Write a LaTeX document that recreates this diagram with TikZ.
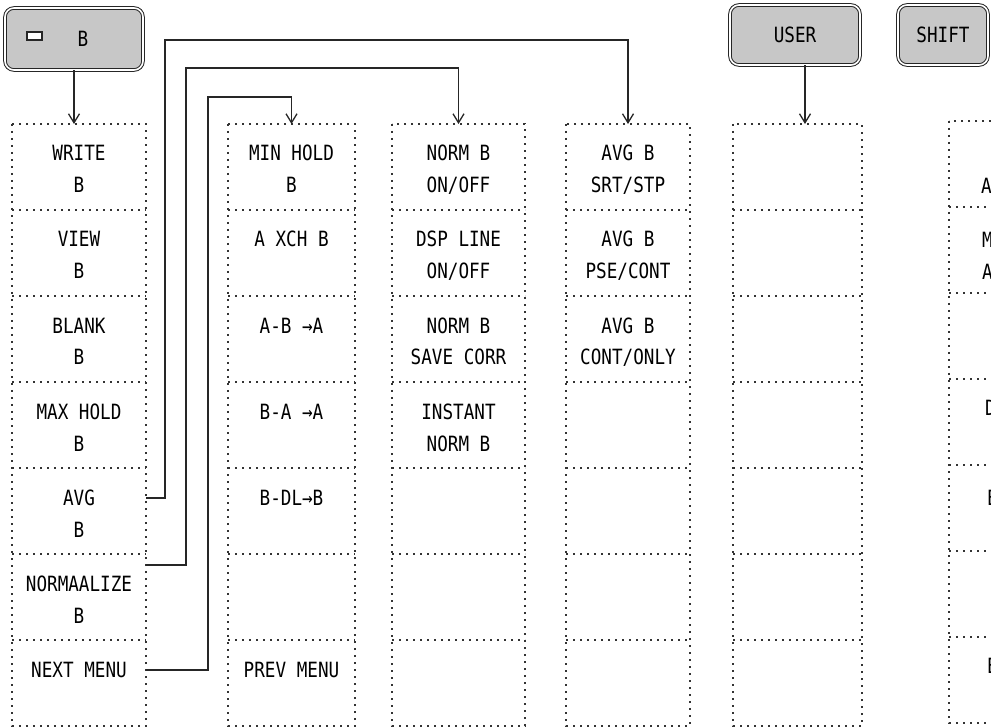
\documentclass[tikz,border=0pt]{standalone}
\usepackage{fontspec}
\newfontfamily\cellfont[FakeStretch=0.84]{DejaVu Sans Mono}
\usetikzlibrary{arrows.meta,calc}
\newcommand\cst{\rule[-6pt]{0pt}{32pt}}
\newcommand\two[2]{\cst#1\\\cst#2}
\newcommand\one[1]{\cst#1\\\cst}
\begin{document}
\begin{tikzpicture}[x=1pt,y=-1pt,
  txt/.style={font=\cellfont\fontsize{21pt}{32pt}\selectfont,text=black},
  cell/.style={txt,draw=none,minimum width=#1,minimum height=86pt,inner sep=0pt,outer sep=0pt,anchor=north west,align=center},
  dotline/.style={draw=black!80,line width=2pt,dash pattern=on 2pt off 5pt},
  conn/.style={draw=black!85,line width=1.6pt},
  >={Straight Barb[length=9pt,width=11pt,line width=1.3pt]},
  btn/.style={txt,draw=black!85,line width=1pt,double=white,double distance=1.6pt,fill=black!22,rounded corners=9pt,inner sep=0pt}
]
\useasboundingbox (0,0) rectangle (991,727);

% buttons
\node[btn,minimum width=138pt,minimum height=62pt] (btnB) at (74,39) {\hspace*{18pt}B};
\draw[line width=1.2pt,draw=black!85,fill=white] ($(btnB.center)+(-47,-7)$) rectangle ($(btnB.center)+(-32,1)$);
\node[btn,minimum width=130pt,minimum height=60pt] (btnU) at (795,35) {USER};
\node[btn,minimum width=90pt,minimum height=60pt] (btnS) at (943,35) {SHIFT};

% column 1
\foreach \r/\t in {1/{\two{WRITE}{B}},2/{\two{VIEW}{B}},3/{\two{BLANK}{B}},4/{\two{MAX HOLD}{B}},5/{\two{AVG}{B}},6/{\two{NORMAALIZE}{B}},7/{\one{NEXT MENU}}}
  \node[cell=134pt] (c1r\r) at (12,{124+(\r-1)*86}) {\t};
% column 2
\foreach \r/\t in {1/{\two{MIN HOLD}{B}},2/{\one{A XCH B}},3/{\one{A-B →A}},4/{\one{B-A →A}},5/{\one{B-DL→B}},6/{},7/{\one{PREV MENU}}}
  \node[cell=127pt] (c2r\r) at (228,{124+(\r-1)*86}) {\t};
% column 3
\foreach \r/\t in {1/{\two{NORM B}{ON/OFF}},2/{\two{DSP LINE}{ON/OFF}},3/{\two{NORM B}{SAVE CORR}},4/{\two{INSTANT}{NORM B}},5/{},6/{},7/{}}
  \node[cell=133pt] (c3r\r) at (392,{124+(\r-1)*86}) {\t};
% column 4
\foreach \r/\t in {1/{\two{AVG B}{SRT/STP}},2/{\two{AVG B}{PSE/CONT}},3/{\two{AVG B}{CONT/ONLY}},4/{},5/{},6/{},7/{}}
  \node[cell=124pt] (c4r\r) at (566,{124+(\r-1)*86}) {\t};
% column 5
\foreach \r in {1,...,7}
  \node[cell=129pt] (c5r\r) at (733,{124+(\r-1)*86}) {};
% column 6 (cut off at the right edge)
\foreach \r in {1,...,7}
  \node[cell=140pt] (c6r\r) at (949,{121+(\r-1)*86}) {};

% dotted grids
\foreach \c in {1,...,6}{
  \draw[dotline] (c\c r1.north west) rectangle (c\c r7.south east);
  \foreach \r in {1,...,6}
    \draw[dotline] (c\c r\r.south west) -- (c\c r\r.south east);
}

% partly visible labels of column 6
\node[txt,anchor=west,inner sep=0pt] (l61) at (981,186) {A};
\node[txt,anchor=west,inner sep=0pt,align=left] (l62) at (982,256) {M\\A};
\node[txt,anchor=west,inner sep=0pt] (l64) at (985,408) {D};
\node[txt,anchor=west,inner sep=0pt] (l65) at (987,498) {E};
\node[txt,anchor=west,inner sep=0pt] (l67) at (987,666) {E};

% button arrows
\draw[conn,->] (btnB.south) -- (btnB.south |- c1r1.north);
\coordinate (u1) at ([xshift=10pt]btnU.south);
\draw[conn,->] (u1) -- (u1 |- c5r1.north);

% connectors from column 1
\coordinate (k1) at (165,40);
\coordinate (k2) at (186,68);
\coordinate (k3) at (208,97);
\draw[conn,->] ([yshift=13pt]c1r5.east) -| (k1) -| (c4r1.north);
\draw[conn,->] ([yshift=32pt]c1r6.east) -| (k2) -| (c3r1.north);
\draw[conn,->] ([yshift=13pt]c1r7.east) -| (k3) -| (c2r1.north);
\end{tikzpicture}
\end{document}
